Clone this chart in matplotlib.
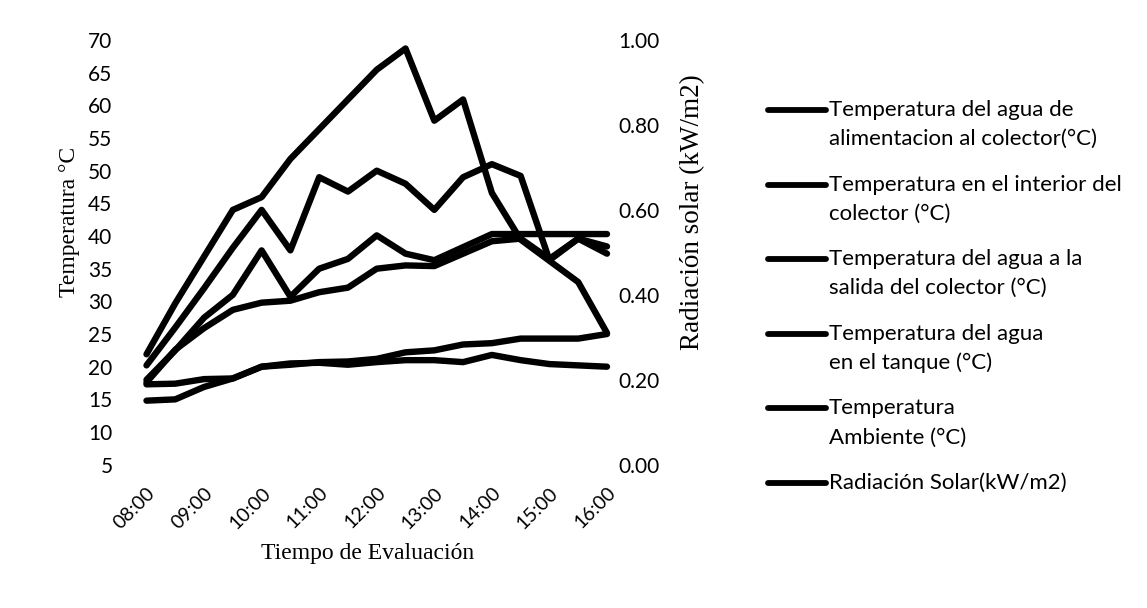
import numpy as np
import matplotlib
matplotlib.use("Agg")
import matplotlib.pyplot as plt
from matplotlib.lines import Line2D

# Horas de medición (cada 30 min)
horas = ["08:00", "08:30", "09:00", "09:30", "10:00", "10:30", "11:00", "11:30",
         "12:00", "12:30", "13:00", "13:30", "14:00", "14:30", "15:00", "15:30", "16:00"]

t_alimentacion = [14.8, 15.0, 16.9, 18.2, 20.0, 20.3, 20.7, 20.8, 21.2, 22.2,
                  22.5, 23.4, 23.6, 24.3, 24.3, 24.3, 25.0]
t_interior = [20.2, 26.0, 32.0, 38.2, 44.0, 37.8, 49.0, 46.8, 50.0, 48.0,
              44.0, 49.0, 51.0, 49.2, 36.3, 39.6, 37.3]
t_salida = [18.0, 22.5, 27.5, 31.0, 37.8, 30.7, 35.0, 36.5, 40.1, 37.3,
            36.3, 38.3, 40.3, 40.3, 40.3, 40.3, 40.3]
t_tanque = [17.6, 22.6, 25.9, 28.7, 29.8, 30.1, 31.4, 32.1, 35.0, 35.5,
            35.4, 37.3, 39.2, 39.6, 36.5, 39.6, 38.4]
t_ambiente = [17.3, 17.4, 18.1, 18.2, 20.0, 20.5, 20.6, 20.3, 20.7, 21.0,
              21.0, 20.7, 21.8, 21.0, 20.4, 20.2, 20.0]
radiacion = [0.26, 0.38, 0.49, 0.60, 0.63, 0.72, 0.79, 0.86, 0.93, 0.98,
             0.81, 0.86, 0.64, 0.53, 0.48, 0.43, 0.31]

etiquetas = [
    "Temperatura del agua de\nalimentacion al colector(°C)",
    "Temperatura en el interior del\ncolector (°C)",
    "Temperatura del agua a la\nsalida del colector (°C)",
    "Temperatura del agua\nen el tanque (°C)",
    "Temperatura\nAmbiente (°C)",
    "Radiación Solar(kW/m2)",
]

SANS = ["Lato", "DejaVu Sans"]
SERIF = ["Liberation Serif", "DejaVu Serif"]
W, H = 1147, 608

fig = plt.figure(figsize=(W / 100, H / 100), dpi=100)
ax = fig.add_axes([146.5 / W, 1 - 464.7 / H, (607 - 146.5) / W, (464.7 - 40) / H])
ax2 = ax.twinx()

x = np.arange(len(horas))
estilo = dict(color="black", lw=4.6, solid_joinstyle="round",
              solid_capstyle="round", clip_on=False)
for serie in [t_alimentacion, t_interior, t_salida, t_tanque, t_ambiente]:
    ax.plot(x, serie, **estilo)
ax2.plot(x, radiacion, **estilo)

ax.set_xlim(0, len(horas) - 1)
ax.set_ylim(5, 70)
ax.set_yticks(np.arange(5, 71, 5))
ax2.set_ylim(0, 1)
ax2.set_yticks(np.arange(0, 1.01, 0.2))
ax2.set_yticklabels([f"{v:.2f}" for v in np.arange(0, 1.01, 0.2)])

ax.set_xticks(x[::2])
ax.set_xticklabels(horas[::2], rotation=45, ha="right", rotation_mode="anchor")

for a in (ax, ax2):
    for s in a.spines.values():
        s.set_visible(False)
ax.tick_params(axis="both", length=0)
ax.tick_params(axis="y", pad=24.5, labelsize=15)
ax.tick_params(axis="x", pad=14, labelsize=14)
ax2.tick_params(axis="y", length=0, labelsize=15, pad=8)
for lab in ax.get_xticklabels() + ax.get_yticklabels() + ax2.get_yticklabels():
    lab.set_family(SANS)

# titulos de ejes
fig.text(70 / W, 1 - 222 / H, "Temperatura °C", rotation=90, ha="center",
         va="center", fontsize=17, family=SERIF)
fig.text(693 / W, 1 - 212 / H, "Radiación solar (kW/m2)", rotation=90,
         ha="center", va="center", fontsize=19.5, family=SERIF)
fig.text(368 / W, 1 - 553 / H, "Tiempo de Evaluación", ha="center",
         va="center", fontsize=17, family=SERIF)

# leyenda manual (linea alineada con la primera linea de texto)
y0, paso, interlinea = 110, 74.6, 29
for i, lab in enumerate(etiquetas):
    yy = y0 + i * paso
    fig.add_artist(Line2D([768 / W, 826 / W], [1 - yy / H] * 2, color="black",
                          lw=4.2, solid_capstyle="round"))
    for k, linea in enumerate(lab.split("\n")):
        fig.text(829 / W, 1 - (yy + k * interlinea) / H, linea, ha="left",
                 va="center", fontsize=16, family=SANS)

fig.savefig("out.png", dpi=100, facecolor="white")
